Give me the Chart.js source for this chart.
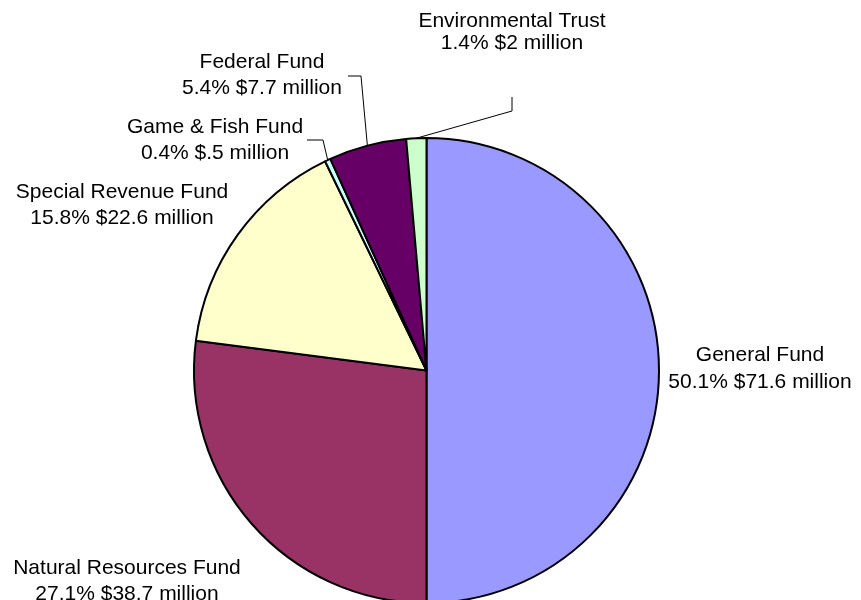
<!DOCTYPE html>
<html>
<head>
<meta charset="utf-8">
<script src="https://cdn.jsdelivr.net/npm/chart.js@4/dist/chart.umd.min.js"></script>
<style>
  html, body { margin: 0; padding: 0; background: #fff; overflow: hidden; }
</style>
</head>
<body>
<canvas id="pie" width="861" height="640"></canvas>
<script>
const funds = ['General Fund', 'Natural Resources Fund', 'Special Revenue Fund', 'Game & Fish Fund', 'Federal Fund', 'Environmental Trust'];
const shares = [50.1, 27.1, 15.8, 0.4, 5.4, 1.4];
const amounts = ['$71.6 million', '$38.7 million', '$22.6 million', '$.5 million', '$7.7 million', '$2 million'];
const colors = ['#9999ff', '#993366', '#ffffcc', '#ccffff', '#660066', '#ccffcc'];

// where each label sits, and the bend of its leader line (null = no line)
const labelPos = [
  { x: 760, y: 355, gap: 27, bend: null },
  { x: 127, y: 568, gap: 26, bend: null },
  { x: 122, y: 192, gap: 26, bend: null },
  { x: 215, y: 127, gap: 26, bend: [[323, 140], [307, 140]] },
  { x: 262, y: 62, gap: 26, bend: [[361, 76], [348, 76]] },
  { x: 512, y: 21, gap: 22, bend: [[512, 111], [512, 97]] }
];

const pieLabels = {
  id: 'pieLabels',
  afterDatasetsDraw(chart) {
    const ctx = chart.ctx;
    const arcs = chart.getDatasetMeta(0).data;
    ctx.save();
    ctx.font = '21px "Liberation Sans", Arial, sans-serif';
    ctx.fillStyle = '#000';
    ctx.textAlign = 'center';
    ctx.textBaseline = 'middle';
    arcs.forEach((arc, i) => {
      const p = labelPos[i];
      if (p.bend) {
        const mid = (arc.startAngle + arc.endAngle) / 2;
        const r = arc.outerRadius;
        ctx.beginPath();
        ctx.moveTo(arc.x + Math.cos(mid) * r, arc.y + Math.sin(mid) * r);
        p.bend.forEach(pt => ctx.lineTo(pt[0], pt[1]));
        ctx.strokeStyle = '#000';
        ctx.lineWidth = 1;
        ctx.stroke();
      }
      ctx.fillText(funds[i], p.x, p.y);
      ctx.fillText(shares[i] + '% ' + amounts[i], p.x, p.y + p.gap);
    });
    ctx.restore();
  }
};

new Chart(document.getElementById('pie'), {
  type: 'pie',
  data: {
    labels: funds,
    datasets: [{
      data: shares,
      backgroundColor: colors,
      borderColor: '#000',
      borderWidth: 2
    }]
  },
  options: {
    responsive: false,
    animation: false,
    layout: { padding: { top: 137, bottom: 36, left: 193, right: 201 } },
    plugins: {
      legend: { display: false },
      tooltip: { enabled: false }
    }
  },
  plugins: [pieLabels]
});
</script>
</body>
</html>
